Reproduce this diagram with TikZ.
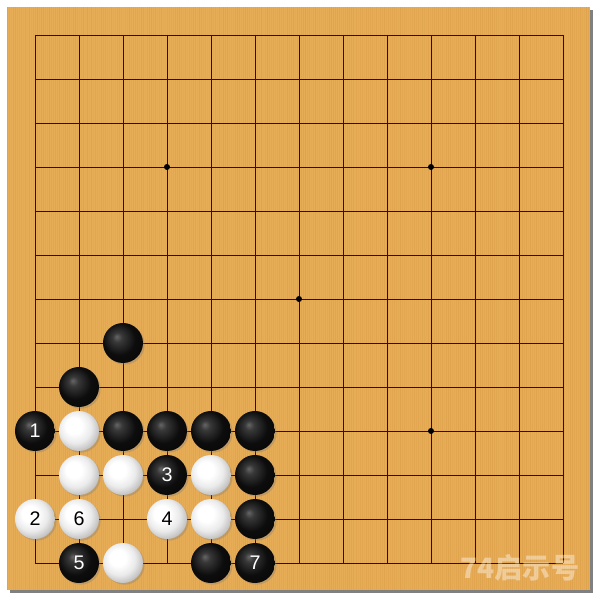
\documentclass[tikz,border=0pt]{standalone}
\usepackage{fontspec}
\setmainfont{Liberation Sans}
\newfontfamily\cjkfont{Noto Sans CJK SC}
\usetikzlibrary{shadows}
\definecolor{wood}{RGB}{231,172,86}
\definecolor{grain}{RGB}{190,120,40}
\definecolor{gridline}{RGB}{45,15,10}
\pgfdeclareradialshading{blackstone}{\pgfpoint{-8bp}{8bp}}{color(0bp)=(black!60); color(6bp)=(black!78); color(20bp)=(black!95); color(50bp)=(black)}
\pgfdeclareradialshading{whitestone}{\pgfpoint{-8bp}{8bp}}{color(0bp)=(white); color(10bp)=(white); color(20bp)=(black!8); color(29bp)=(black!25); color(36bp)=(black!45); color(50bp)=(black!50)}

\begin{document}
\begin{tikzpicture}[x=1.1cm, y=-1.1cm]
   \tikzset{
    stone/.style={circle, minimum size=1cm, inner sep=0pt, font=\fontsize{14}{16}\selectfont,
                  drop shadow={shadow xshift=1.2pt, shadow yshift=-1.2pt, opacity=0.35}},
    bstone/.style={stone, shading=blackstone, text=white},
    wstone/.style={stone, shading=whitestone, text=black},
    hoshi/.style={circle, fill=black, minimum size=0.15cm, inner sep=0pt}
   }
   \useasboundingbox[fill=white] (-0.795,-0.795) rectangle (12.841,12.841);
   % board and its shadow
   \fill[black!50] (-0.566,-0.566) rectangle (12.684,12.684);
   \fill[wood] (-0.636,-0.636) rectangle (12.614,12.614);
   \pgfmathsetseed{7}
   \foreach \k in {0,...,290}
    \draw[grain, line width=0.5pt, opacity={0.04+0.14*rnd}] ({-0.625+\k*0.0455},-0.636) -- ++(0,13.25);
   % grid
   \foreach \i in {0,...,12} {
    \draw[gridline, line width=0.6pt] (\i,0) -- (\i,12);
    \draw[gridline, line width=0.6pt] (0,\i) -- (12,\i);
   }
   \foreach \p/\q in {3/3, 9/3, 6/6, 9/9, 3/9}
    \node[hoshi] (h\p\q) at (\p,\q) {};
   % stones
   \begin{scope}[every node/.style={bstone}]
    \node (b27) at (2,7) {};
    \node (b18) at (1,8) {};
    \node (m1) at (0,9) {1};
    \node (b29) at (2,9) {};
    \node (b39) at (3,9) {};
    \node (b49) at (4,9) {};
    \node (b59) at (5,9) {};
    \node (m3) at (3,10) {3};
    \node (b510) at (5,10) {};
    \node (b511) at (5,11) {};
    \node (m5) at (1,12) {5};
    \node (b412) at (4,12) {};
    \node (m7) at (5,12) {7};
   \end{scope}
   \begin{scope}[every node/.style={wstone}]
    \node (w19) at (1,9) {};
    \node (w110) at (1,10) {};
    \node (w210) at (2,10) {};
    \node (w410) at (4,10) {};
    \node (m2) at (0,11) {2};
    \node (m6) at (1,11) {6};
    \node (m4) at (3,11) {4};
    \node (w411) at (4,11) {};
    \node (w212) at (2,12) {};
   \end{scope}
   % watermark
   \node[text=white, opacity=0.4, font=\cjkfont\fontsize{20}{22}\selectfont\bfseries] (mark) at (11.02,12.1) {74启示号};
\end{tikzpicture}
\end{document}
